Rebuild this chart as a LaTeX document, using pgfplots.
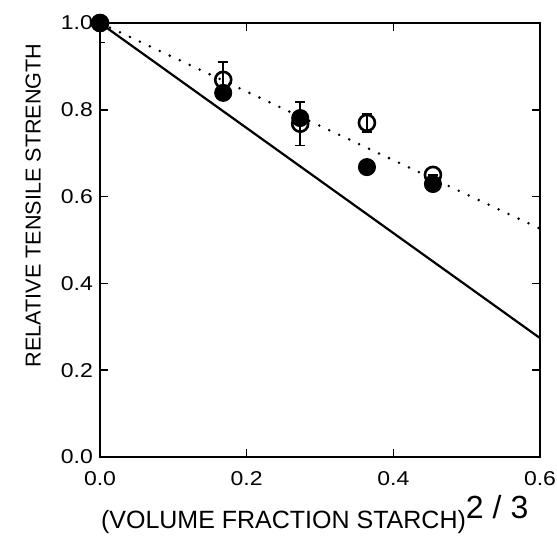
\documentclass[border=0pt]{standalone}
\usepackage{fontspec}
\setmainfont{Liberation Sans}
\newfontfamily\tickfont[FakeStretch=1.15]{Liberation Sans}
\newfontfamily\labfont{Liberation Sans}
\usepackage{pgfplots}
\pgfplotsset{compat=1.18}
\begin{document}
\begin{tikzpicture}
\begin{axis}[
  name=ax,
  scale only axis, width=220pt, height=217pt,
  xmin=0, xmax=0.6, ymin=0, ymax=1.0,
  xtick={0,0.2,0.4,0.6}, ytick={0,0.2,0.4,0.6,0.8,1.0},
  tick align=inside, major tick length=4pt,
  axis line style={line width=1pt},
  tick style={line width=0.8pt, black},
  /pgf/number format/fixed, /pgf/number format/fixed zerofill,
  /pgf/number format/precision=1, /pgf/number format/assume math mode=true,
  ticklabel style={font=\tickfont\fontsize{10}{11}\selectfont},
  xticklabel style={yshift=-3.5pt},
  yticklabel style={xshift=0pt},
  xlabel={\labfont\fontsize{12.5}{13}\selectfont (VOLUME FRACTION STARCH)\raisebox{5pt}{\fontsize{16}{16}\selectfont 2\hspace{4.5pt}/\hspace{4.5pt}3}},
  ylabel={\labfont\fontsize{10.8}{11}\selectfont RELATIVE TENSILE STRENGTH},
  xlabel style={at={(axis description cs:0.488,0)}, anchor=base, yshift=-35.5pt, inner sep=0pt},
  ylabel style={at={(axis description cs:-0.152,0.58)}, anchor=center, inner sep=0pt},
  clip=true,
]
\addplot[black, line width=1.1pt] coordinates {(0,1) (0.6,0.274)};
\addplot[black, line width=1.4pt, line cap=round, dash pattern=on 0pt off 5.5pt] coordinates {(0,1) (0.6,0.526)};
\addplot[black, only marks, mark=o, mark size=4pt, mark options={line width=1.3pt},
  error bars/.cd, y dir=both, y explicit,
  error mark options={rotate=90, line width=0.8pt, mark size=2.5pt, black},
  error bar style={line width=0.8pt, black}]
  coordinates {
    (0,1) +- (0,0.045)
    (0.168,0.869) +- (0,0.041)
    (0.273,0.768) +- (0,0.050)
    (0.364,0.770) +- (0,0.021)
    (0.454,0.650) +- (0,0.0)
  };
\addplot[black, only marks, mark=*, mark size=4.3pt] coordinates {
    (0,1) (0.168,0.839) (0.273,0.781) (0.364,0.668) (0.454,0.629)
  };
\end{axis}
\pgfresetboundingbox
\path[use as bounding box] ([xshift=-50pt,yshift=-39pt]ax.south west) rectangle ([xshift=8.5pt,yshift=11.5pt]ax.north east);
\end{tikzpicture}
\end{document}
